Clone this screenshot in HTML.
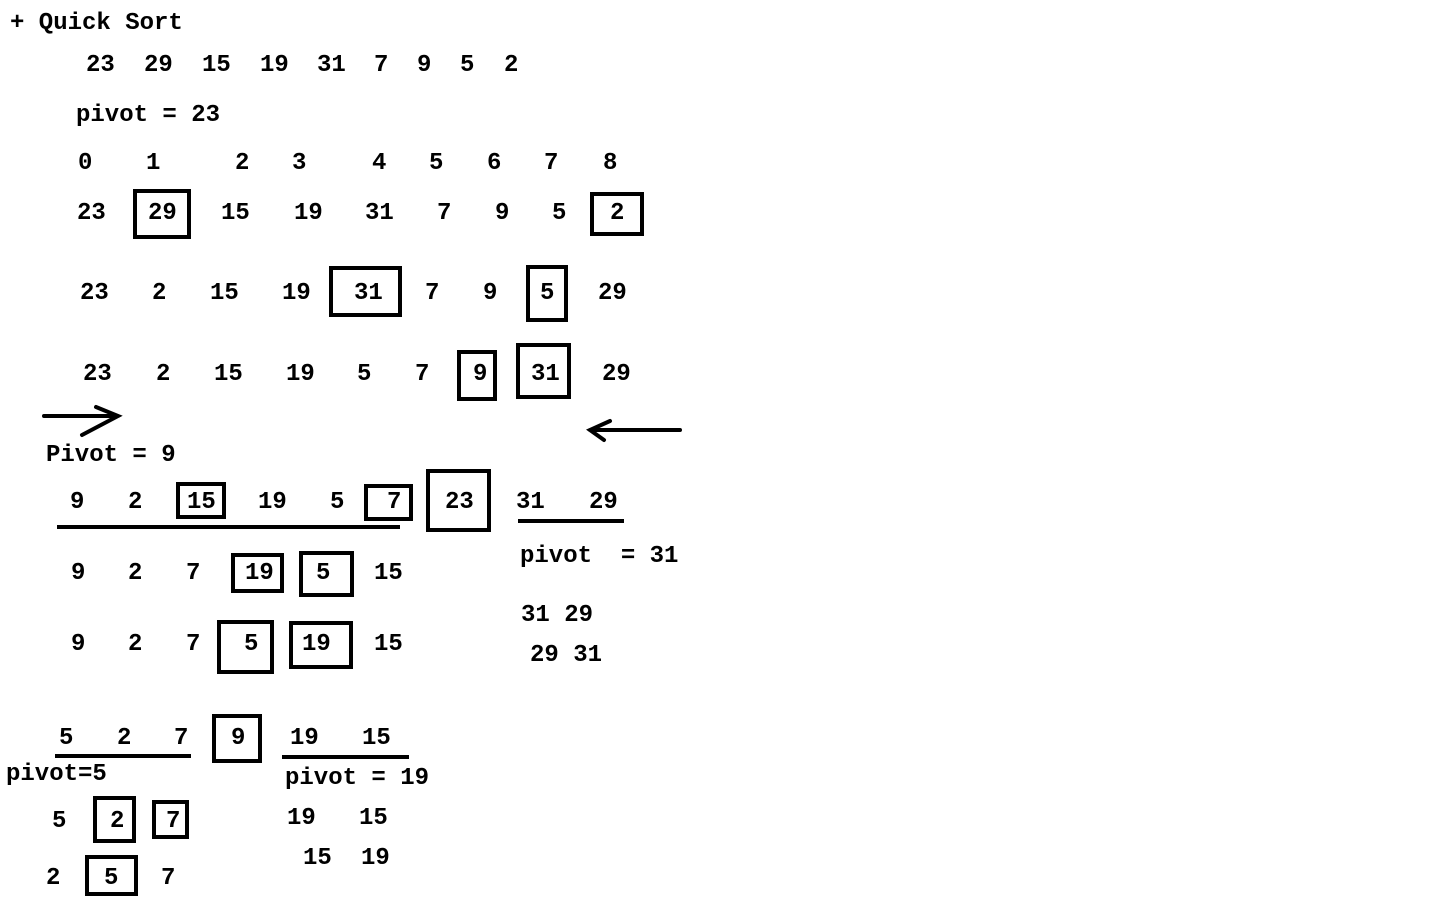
<!DOCTYPE html>
<html><head><meta charset="utf-8"><style>
html,body{margin:0;padding:0;background:#fff;width:1440px;height:900px;overflow:hidden}
svg text{font-family:"Liberation Mono",monospace;font-weight:bold;font-size:24px;fill:#000;white-space:pre}
</style></head><body>
<svg id="s" width="1440" height="900" viewBox="0 0 1440 900" xmlns="http://www.w3.org/2000/svg">
<g id="t"></g><g id="b" fill="none" stroke="#000" stroke-width="4"></g>
<g stroke="#000" stroke-width="4" fill="none" stroke-linecap="round">
<path d="M44 416 L118 416 M96 407 L118 416 L82 435"/>
<path d="M680 430 L590 430 M610 421 L590 430 L604 440"/>
</g>
</svg>
<script>
const labels=[
["+ Quick Sort",10,22],["pivot = 23",76,114],["Pivot = 9",46,454],["pivot  = 31",520,555],
["31 29",521,614],["29 31",530,654],["pivot=5",6,773],["pivot = 19",285,777]];
const rows=[
[64,[["23",86],["29",144],["15",202],["19",260],["31",317],["7",374],["9",417],["5",460],["2",504]]],
[162,[["0",78],["1",146],["2",235],["3",292],["4",372],["5",429],["6",487],["7",544],["8",603]]],
[212,[["23",77],["29",148],["15",221],["19",294],["31",365],["7",437],["9",495],["5",552],["2",610]]],
[292,[["23",80],["2",152],["15",210],["19",282],["31",354],["7",425],["9",483],["5",540],["29",598]]],
[373,[["23",83],["2",156],["15",214],["19",286],["5",357],["7",415],["9",473],["31",531],["29",602]]],
[501,[["9",70],["2",128],["15",187],["19",258],["5",330],["7",387],["23",445],["31",516],["29",589]]],
[572,[["9",71],["2",128],["7",186],["19",245],["5",316],["15",374]]],
[643,[["9",71],["2",128],["7",186],["5",244],["19",302],["15",374]]],
[737,[["5",59],["2",117],["7",174],["9",231],["19",290],["15",362]]],
[820,[["5",52],["2",110],["7",166]]],[817,[["19",287],["15",359]]],
[877,[["2",46],["5",104],["7",161]]],[857,[["15",303],["19",361]]]];
const boxes=[[135,191,189,237],[592,194,642,234],[331,268,400,315],[528,267,566,320],
[459,352,495,399],[518,345,569,397],[178,484,224,517],[366,486,411,519],[428,471,489,530],
[233,555,282,591],[301,553,352,595],[219,622,272,672],[291,623,351,667],[214,716,260,761],
[95,798,134,841],[154,802,187,837],[87,857,136,894]];
const lines=[[57,400,527],[518,624,521],[55,191,756],[282,409,757]];
const NS="http://www.w3.org/2000/svg",tg=document.getElementById('t'),bg=document.getElementById('b');
function txt(s,x,cy,name){const e=document.createElementNS(NS,'text');
e.setAttribute('x',x);e.setAttribute('y',cy+7);e.textContent=s;


tg.appendChild(e);}
labels.forEach(l=>txt(l[0],l[1],l[2],'label'));
rows.forEach(r=>r[1].forEach(c=>txt(c[0],c[1],r[0],'array-value')));
boxes.forEach(b=>{const e=document.createElementNS(NS,'rect');
e.setAttribute('x',b[0]);e.setAttribute('y',b[1]);e.setAttribute('width',b[2]-b[0]);e.setAttribute('height',b[3]-b[1]);


bg.appendChild(e);});
lines.forEach(l=>{const e=document.createElementNS(NS,'line');
e.setAttribute('x1',l[0]);e.setAttribute('x2',l[1]);e.setAttribute('y1',l[2]);e.setAttribute('y2',l[2]);


bg.appendChild(e);});
</script>
</body></html>
